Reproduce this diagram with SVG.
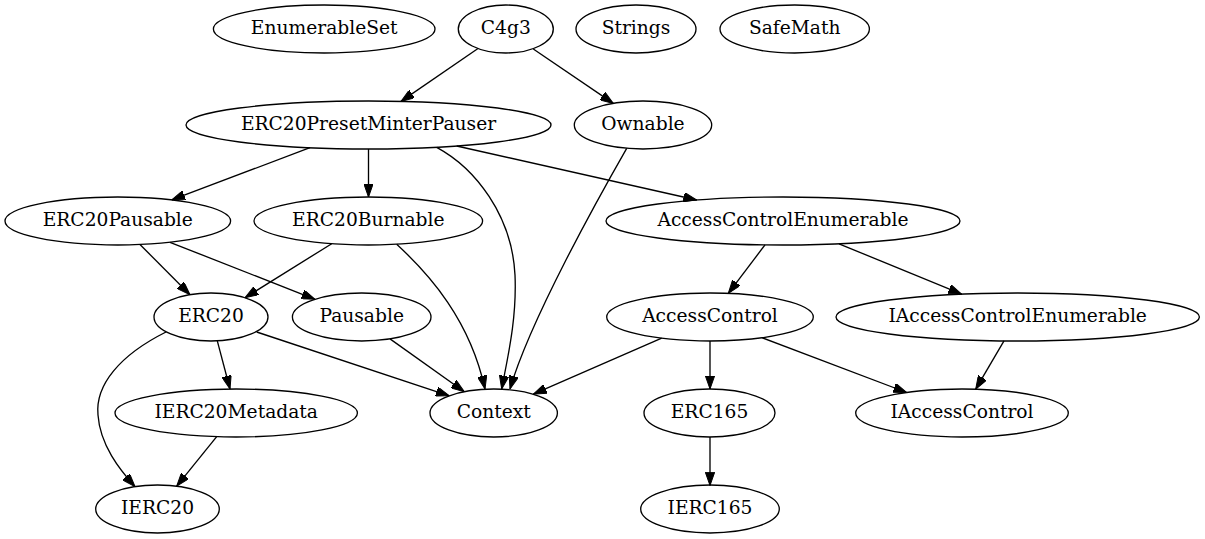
<svg xmlns="http://www.w3.org/2000/svg" width="1205" height="539" viewBox="0 0 1205 539">
<style>
.n ellipse{fill:none;stroke:#000;stroke-width:1.33}
.n text{font-family:"DejaVu Serif","Liberation Serif",serif;font-size:18.67px;text-anchor:middle;fill:#000}
#edges path{fill:none;stroke:#000;stroke-width:1.33;marker-end:url(#ah)}
</style>
<defs>
<marker id="ah" markerUnits="userSpaceOnUse" viewBox="0 0 13.3 9.4" refX="13.3" refY="4.7" markerWidth="13.3" markerHeight="9.4" orient="auto">
<path d="M0,0 L13.3,4.7 L0,9.4 z" fill="#000" stroke="#000" stroke-width="1"/>
</marker>
</defs>
<rect width="1205" height="539" fill="#fff"/>
<g id="edges">
<path d="M478,48.5 L401,101.4"/>
<path d="M533.3,49 L613.3,103.4"/>
<path d="M310,147.7 L171.7,199.9"/>
<path d="M368.5,149 L368.5,197"/>
<path d="M436.7,147.3 C475,168 512,215 515,275 C517,320 507,360 501.7,389"/>
<path d="M456.7,146 L696.7,200"/>
<path d="M626.7,148.3 C600,195 530,320 510,389"/>
<path d="M140,244.5 L190,294.7"/>
<path d="M170,242.3 L315,299.3"/>
<path d="M331.7,243.7 L245,297.7"/>
<path d="M396.7,244.2 C430,275 470,320 485,389"/>
<path d="M217.3,340.9 L230,389"/>
<path d="M166,332 C120,355 95,385 98,415 C100,445 120,470 135,486.6"/>
<path d="M216.7,436.7 L176.7,486.2"/>
<path d="M256.7,332 L449.3,395.8"/>
<path d="M390,338.9 L464.3,391.7"/>
<path d="M661.7,338.2 L533.3,394.2"/>
<path d="M710,341 L710,389"/>
<path d="M762,337.7 L906.7,392.5"/>
<path d="M765,244.9 L728.3,293.4"/>
<path d="M839,243.8 L961.7,294.2"/>
<path d="M1004,340.9 L975.7,389.2"/>
<path d="M710,437 L710,485.5"/>
</g>
<g id="EnumerableSet" class="n"><ellipse cx="324.2" cy="29" rx="110.8" ry="24"/><text x="324.2" y="34">EnumerableSet</text></g>
<g id="C4g3" class="n"><ellipse cx="505.8" cy="29" rx="47.5" ry="24"/><text x="505.8" y="34">C4g3</text></g>
<g id="Strings" class="n"><ellipse cx="636" cy="29" rx="60" ry="24"/><text x="636" y="34">Strings</text></g>
<g id="SafeMath" class="n"><ellipse cx="794.7" cy="29" rx="74.7" ry="24"/><text x="794.7" y="34">SafeMath</text></g>
<g id="ERC20PresetMinterPauser" class="n"><ellipse cx="368.5" cy="125" rx="182.5" ry="24"/><text x="368.5" y="130">ERC20PresetMinterPauser</text></g>
<g id="Ownable" class="n"><ellipse cx="643" cy="125" rx="68.7" ry="24"/><text x="643" y="130">Ownable</text></g>
<g id="ERC20Pausable" class="n"><ellipse cx="117.8" cy="221" rx="112.8" ry="24"/><text x="117.8" y="226">ERC20Pausable</text></g>
<g id="ERC20Burnable" class="n"><ellipse cx="368.3" cy="221" rx="114.3" ry="24"/><text x="368.3" y="226">ERC20Burnable</text></g>
<g id="AccessControlEnumerable" class="n"><ellipse cx="783" cy="221" rx="177" ry="24"/><text x="783" y="226">AccessControlEnumerable</text></g>
<g id="ERC20" class="n"><ellipse cx="211" cy="317" rx="57" ry="24"/><text x="211" y="322">ERC20</text></g>
<g id="Pausable" class="n"><ellipse cx="361.7" cy="317" rx="69.3" ry="24"/><text x="361.7" y="322">Pausable</text></g>
<g id="AccessControl" class="n"><ellipse cx="710" cy="317" rx="103.3" ry="24"/><text x="710" y="322">AccessControl</text></g>
<g id="IAccessControlEnumerable" class="n"><ellipse cx="1017.7" cy="317" rx="181.7" ry="24"/><text x="1017.7" y="322">IAccessControlEnumerable</text></g>
<g id="IERC20Metadata" class="n"><ellipse cx="236.2" cy="413" rx="121.2" ry="24"/><text x="236.2" y="418">IERC20Metadata</text></g>
<g id="Context" class="n"><ellipse cx="493.7" cy="413" rx="63.7" ry="24"/><text x="493.7" y="418">Context</text></g>
<g id="ERC165" class="n"><ellipse cx="709.5" cy="413" rx="65.5" ry="24"/><text x="709.5" y="418">ERC165</text></g>
<g id="IAccessControl" class="n"><ellipse cx="962" cy="413" rx="106.3" ry="24"/><text x="962" y="418">IAccessControl</text></g>
<g id="IERC20" class="n"><ellipse cx="157.5" cy="509" rx="61.8" ry="24"/><text x="157.5" y="514">IERC20</text></g>
<g id="IERC165" class="n"><ellipse cx="710" cy="509" rx="69.3" ry="24"/><text x="710" y="514">IERC165</text></g>
</svg>
